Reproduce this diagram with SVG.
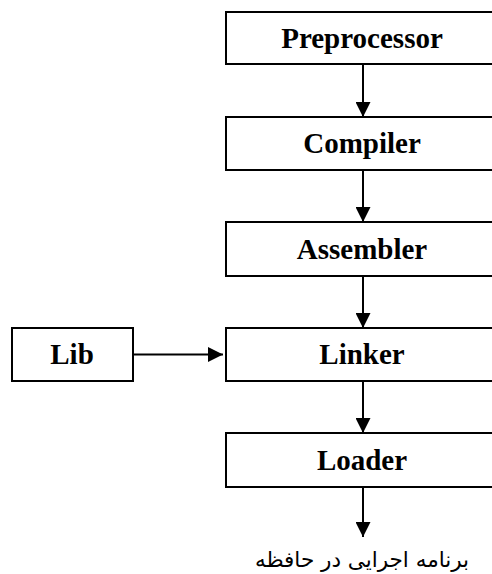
<svg xmlns="http://www.w3.org/2000/svg" width="492" height="574" viewBox="0 0 492 574">
<style>
.box{fill:#fff;stroke:#000;stroke-width:2}
.lbl{font-family:"Liberation Serif","Times New Roman",serif;font-weight:bold;font-size:29px;text-anchor:middle;fill:#000}
.line{stroke:#000;stroke-width:2;fill:none}
.fa{font-family:"DejaVu Sans","Noto Sans",sans-serif;font-size:21.5px;text-anchor:middle;fill:#000}
</style>
<defs>
<marker id="ah" markerWidth="15" markerHeight="15" refX="15" refY="7.5" orient="auto" markerUnits="userSpaceOnUse">
<path d="M0,0 L15,7.5 L0,15 Z" fill="#000"/>
</marker>
</defs>
<g id="connectors">
<line class="line" x1="363" y1="64" x2="363" y2="117" marker-end="url(#ah)"/>
<line class="line" x1="363" y1="170" x2="363" y2="222" marker-end="url(#ah)"/>
<line class="line" x1="363" y1="276" x2="363" y2="328" marker-end="url(#ah)"/>
<line class="line" x1="363" y1="381" x2="363" y2="433" marker-end="url(#ah)"/>
<line class="line" x1="363" y1="487" x2="363" y2="537" marker-end="url(#ah)"/>
<line class="line" x1="133" y1="354.5" x2="223" y2="354.5" marker-end="url(#ah)"/>
</g>
<g id="preprocessor"><rect class="box" x="226" y="12" width="274" height="52"/><text class="lbl" x="362" y="48">Preprocessor</text></g>
<g id="compiler"><rect class="box" x="226" y="117" width="274" height="53"/><text class="lbl" x="362" y="153">Compiler</text></g>
<g id="assembler"><rect class="box" x="226" y="222" width="274" height="54"/><text class="lbl" x="362" y="259">Assembler</text></g>
<g id="linker"><rect class="box" x="226" y="328" width="274" height="53"/><text class="lbl" x="362" y="364">Linker</text></g>
<g id="loader"><rect class="box" x="226" y="433" width="274" height="54"/><text class="lbl" x="362" y="470">Loader</text></g>
<g id="lib"><rect class="box" x="12" y="328" width="121" height="53"/><text class="lbl" x="72" y="364">Lib</text></g>
<g id="output"><text class="fa" x="362" y="567" direction="rtl">برنامه اجرایی در حافظه</text></g>
</svg>
